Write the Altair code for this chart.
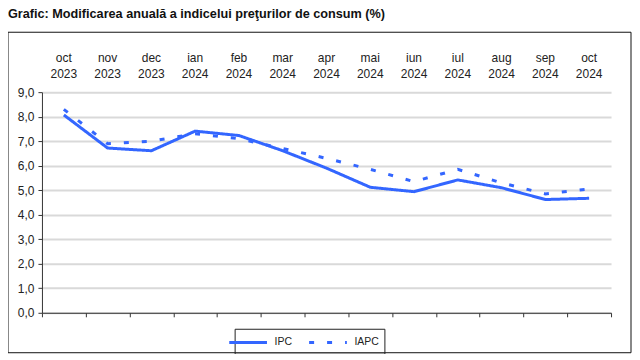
import altair as alt
import pandas as pd

months = ["oct 2023", "nov 2023", "dec 2023", "ian 2024", "feb 2024", "mar 2024",
          "apr 2024", "mai 2024", "iun 2024", "iul 2024", "aug 2024", "sep 2024", "oct 2024"]
ipc = [8.07, 6.72, 6.61, 7.41, 7.23, 6.61, 5.90, 5.12, 4.94, 5.42, 5.10, 4.62, 4.67]
iapc = [8.3, 6.9, 7.0, 7.3, 7.1, 6.7, 6.3, 5.85, 5.35, 5.85, 5.3, 4.85, 5.05]
series = ["IPC", "IAPC"]

rows = []
for name, vals in zip(series, [ipc, iapc]):
    for m, v in zip(months, vals):
        rows.append({"luna": m, "valoare": v, "serie": name})
df = pd.DataFrame(rows)

BLUE = "#3366ff"
FONT = "Liberation Sans"

xscale = alt.Scale(type="band", domain=months, paddingInner=0, paddingOuter=0)
yscale = alt.Scale(domain=[0, 9], nice=False)

leg = dict(title=None, orient="none", legendX=193, legendY=237,
           direction="horizontal", symbolType="M-2.7,0H2.7",
           symbolSize=196, symbolStrokeWidth=3,
           labelFont=FONT, labelFontSize=10.5, labelColor="#222",
           strokeColor="#222", padding=5, columnPadding=10,
           labelOffset=18)

lines = alt.Chart(df).mark_line(strokeWidth=3).encode(
    x=alt.X("luna:N", scale=xscale, bandPosition=0.5, sort=months,
            axis=alt.Axis(orient="top", title=None, domain=False, ticks=False,
                          labelAngle=0, labelExpr="split(datum.label, ' ')",
                          labelLineHeight=16, labelPadding=28, labelFontSize=12,
                          labelFont=FONT, labelColor="#222", grid=False)),
    y=alt.Y("valoare:Q", scale=yscale,
            axis=alt.Axis(title=None, values=list(range(10)), labelOverlap=False,
                          labelExpr="replace(format(datum.value, '.1f'), '.', ',')",
                          labelFontSize=12, labelFont=FONT, labelColor="#222",
                          domainColor="#333", tickColor="#333", tickSize=4,
                          labelPadding=4, gridColor="#d9d9d9", gridWidth=2)),
    color=alt.Color("serie:N", scale=alt.Scale(domain=series, range=[BLUE, BLUE]),
                    legend=alt.Legend(**leg)),
    strokeDash=alt.StrokeDash("serie:N", scale=alt.Scale(domain=series, range=[[1, 0], [5, 13]]),
                              legend=alt.Legend(**leg)),
)

bottom = alt.Chart(df).mark_point(opacity=0, size=1).encode(
    x=alt.X("luna:N", scale=xscale, bandPosition=0.5, sort=months,
            axis=alt.Axis(orient="bottom", title=None, labels=False, ticks=True,
                          tickBand="extent", tickSize=4, tickColor="#333",
                          domainColor="#333", grid=False)),
)

frame = alt.Chart(pd.DataFrame({"a": [0]})).mark_rect(
    fill=None, stroke="#111", strokeWidth=1
).encode(
    x=alt.value(-34), x2=alt.value(590), y=alt.value(-60), y2=alt.value(261)
)

chart = alt.layer(frame, bottom, lines).resolve_axis(x="independent").properties(
    width=570, height=221,
    title=alt.TitleParams("Grafic: Modificarea anuală a indicelui preţurilor de consum (%)",
                          anchor="start", frame="group", dx=-34, fontSize=12.7,
                          font=FONT, fontWeight="bold", color="#111", offset=11),
    autosize=alt.AutoSizeParams(type="none"),
    padding={"left": 34, "top": 84, "right": 21, "bottom": 41},
).configure_view(stroke=None)

chart.save("out.html", embed_options={"renderer": "svg", "actions": False})
